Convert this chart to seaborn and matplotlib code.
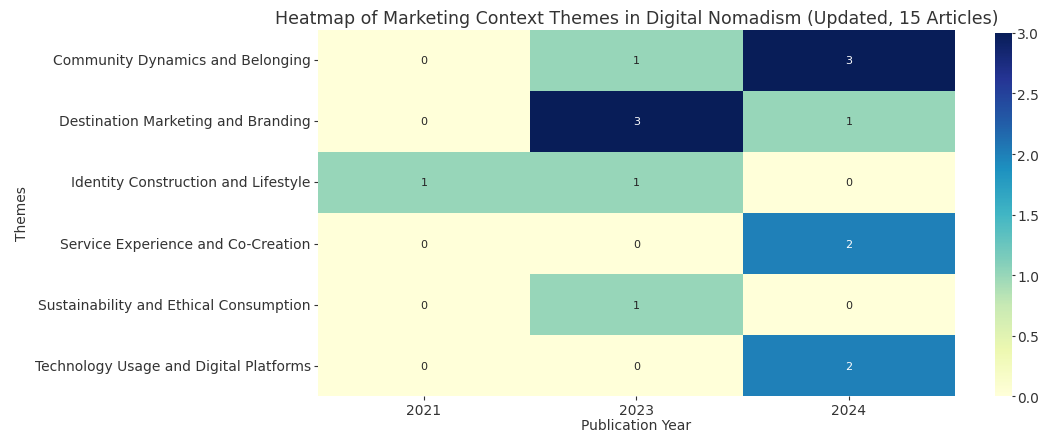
import numpy as np
import pandas as pd
import matplotlib
matplotlib.use("Agg")
import matplotlib.pyplot as plt
import seaborn as sns

# Données du heatmap
themes = [
    "Community Dynamics and Belonging",
    "Destination Marketing and Branding",
    "Identity Construction and Lifestyle",
    "Service Experience and Co-Creation",
    "Sustainability and Ethical Consumption",
    "Technology Usage and Digital Platforms",
]
years = ["2021", "2023", "2024"]
counts_2021 = [0, 0, 1, 0, 0, 0]
counts_2023 = [1, 3, 1, 0, 1, 0]
counts_2024 = [3, 1, 0, 2, 0, 2]

df = pd.DataFrame({"2021": counts_2021, "2023": counts_2023, "2024": counts_2024},
                  index=themes)

sns.set_style("white")
fig = plt.figure(figsize=(10.45, 4.35), dpi=100)
ax = fig.add_axes([0.304, 0.087, 0.610, 0.842])
cax = fig.add_axes([0.952, 0.087, 0.016, 0.835])

sns.heatmap(df, annot=True, fmt="d", cmap="YlGnBu", ax=ax, cbar_ax=cax,
            annot_kws={"fontsize": 8})

ax.set_title("Heatmap of Marketing Context Themes in Digital Nomadism (Updated, 15 Articles)",
             fontsize=12.5, color="#333333", pad=5)
ax.set_xlabel("Publication Year", fontsize=10, color="#333333", labelpad=1)
ax.set_ylabel("Themes", fontsize=10, color="#333333")
ax.tick_params(axis="both", labelsize=10, colors="#333333", length=3, pad=2,
               bottom=True, left=True)
ax.set_yticklabels(themes, rotation=0)
cax.tick_params(labelsize=10, colors="#333333", length=2, pad=2, right=True)
cax.set_yticks([0, 0.5, 1.0, 1.5, 2.0, 2.5, 3.0])

fig.savefig("out.png", dpi=100)
